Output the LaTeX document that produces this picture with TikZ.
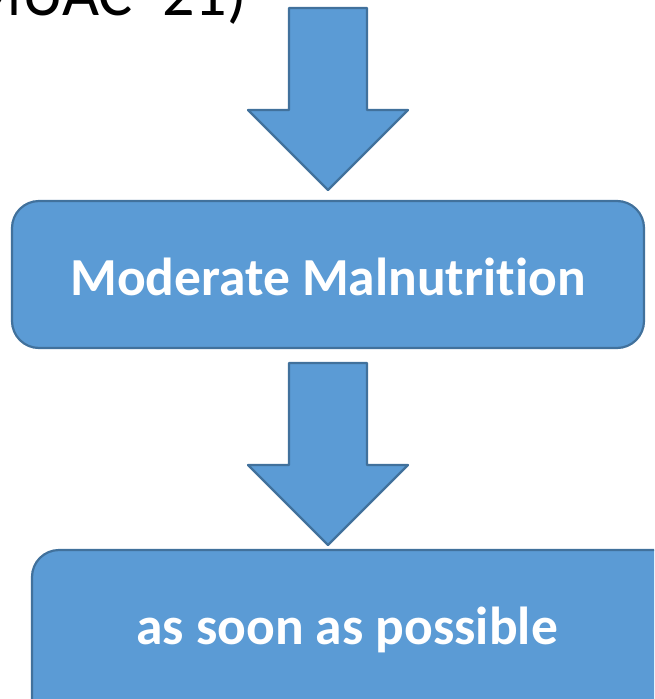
\documentclass[tikz,border=0pt]{standalone}
\usepackage{fontspec}
\setmainfont{Carlito}[Ligatures=NoCommon]
\definecolor{boxfill}{HTML}{5B9BD5}
\definecolor{boxline}{HTML}{41719C}
\begin{document}
\begin{tikzpicture}[x=1pt,y=-1pt,
  blk/.style={fill=boxfill,draw=boxline,line width=2.2pt,line join=round},
  rbox/.style={blk,rounded corners=27pt},
  boxtext/.style={text=white,font=\fontsize{53.5}{60}\selectfont\bfseries,inner sep=0pt}]
\useasboundingbox (0,0) rectangle (654,699);
\clip (0,0) rectangle (654,699);
% top caption (cut off at the top edge, as in the reference)
\node[anchor=base east,inner sep=0pt,font=\fontsize{64}{70}\selectfont] (cap) at (247,15) {MUAC\hspace{15pt} 21)};
% boxes
\draw[rbox] (12,201) rectangle (644,348);
\node[boxtext] (b1) at (328,277) {Moderate Malnutrition};
\draw[rbox] (32,550) rectangle (690,730);
\node[boxtext] (b2) at (347,630) {as soon as possible};
% block arrows
\foreach \t/\s/\p/\n in {8/110/190/a1, 363/465/545/a2}{
  \draw[blk] (289,\t) -- (367,\t) -- (367,\s) -- (408,\s) -- (328,\p) -- (248,\s) -- (289,\s) -- cycle;
}
\end{tikzpicture}
\end{document}
